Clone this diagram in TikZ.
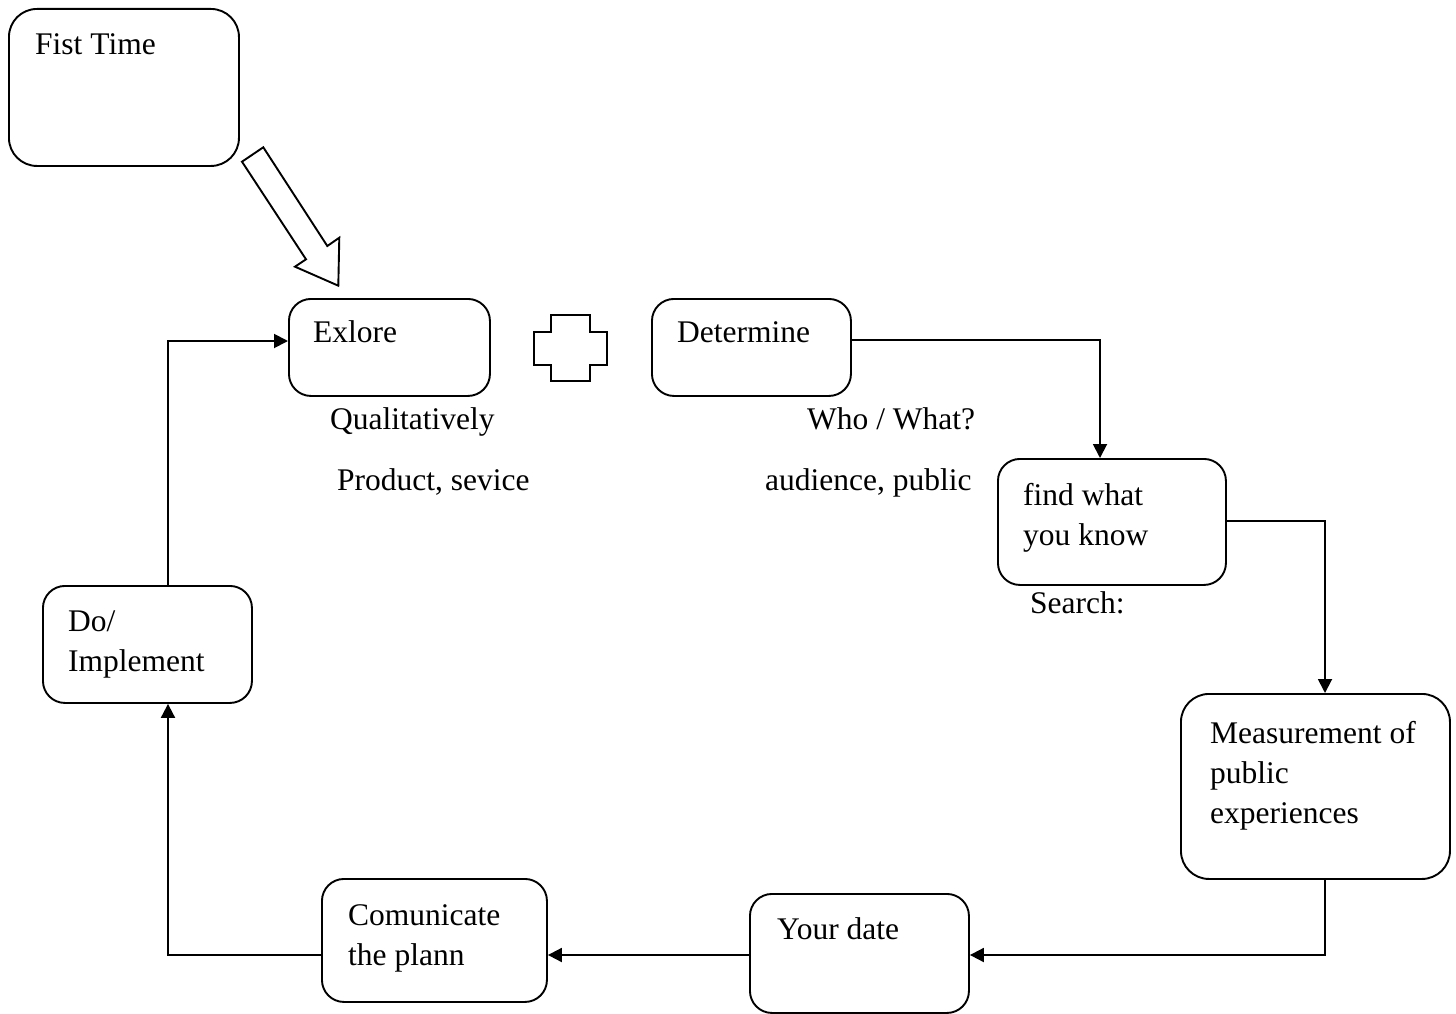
\documentclass[tikz,border=0pt]{standalone}
\usepackage{fontspec}
\setmainfont{Liberation Serif}
\usetikzlibrary{arrows.meta}
\newcommand\mlines[1]{\begin{tabular}[t]{@{}l@{}}#1\end{tabular}}
\tikzset{
  box/.style={draw, line width=1.9pt, rounded corners=22pt, anchor=north west, inner sep=0pt},
  txt/.style={anchor=base west, inner sep=0pt, font=\fontsize{31.5}{40}\selectfont},
  conn/.style={line width=1.9pt, -{Triangle[length=14pt,width=14pt]}},
  outl/.style={draw, line width=1.9pt, fill=white}
}
\begin{document}
\begin{tikzpicture}[x=1pt,y=-1pt]
\useasboundingbox (0,0) rectangle (1456,1014);
% boxes
\node[box, rounded corners=28pt, minimum width=230pt, minimum height=157pt] (fist) at (8,8) {};
\node[box, minimum width=201pt, minimum height=97pt] (exp) at (288,298) {};
\node[box, minimum width=199pt, minimum height=97pt] (det) at (651,298) {};
\node[box, minimum width=228pt, minimum height=126pt] (find) at (997,458) {};
\node[box, rounded corners=28pt, minimum width=269pt, minimum height=185pt] (meas) at (1180,693) {};
\node[box, minimum width=219pt, minimum height=119pt] (date) at (749,893) {};
\node[box, minimum width=225pt, minimum height=123pt] (com) at (321,878) {};
\node[box, minimum width=209pt, minimum height=117pt] (do) at (42,585) {};
% box texts
\node[txt] (fistT) at (35,55) {Fist Time};
\node[txt] (expT) at (313,342) {Exlore};
\node[txt] (detT) at (677,342) {Determine};
\node[txt] (findT) at (1023,505) {\mlines{find what\\you know}};
\node[txt] (measT) at (1210,743) {\mlines{Measurement of\\public\\experiences}};
\node[txt] (dateT) at (777,939) {Your date};
\node[txt] (comT) at (348,925) {\mlines{Comunicate\\the plann}};
\node[txt] (doT) at (68,631) {\mlines{Do/\\Implement}};
% free labels
\node[txt] (qual) at (330,429) {Qualitatively};
\node[txt] (prod) at (337,490) {Product, sevice};
\node[txt] (who) at (807,429) {Who / What?};
\node[txt] (aud) at (765,490) {audience, public};
\node[txt] (search) at (1030,613) {Search:};
% connectors
\draw[conn] (det.east |- 0,340) -| (1100,0 |- find.north);
\draw[conn] (find.east |- 0,521) -| (1325,0 |- meas.north);
\draw[conn] (meas.south -| 1325,0) |- (date.east |- 0,955);
\draw[conn] (date.west |- 0,955) -- (com.east |- 0,955);
\draw[conn] (com.west |- 0,955) -| (168,0 |- do.south);
\draw[conn] (do.north -| 168,0) |- (exp.west |- 0,341);
% block arrow
\draw[outl, line join=miter] (242,161.7) -- (263.3,147.3) -- (327.3,246) -- (339.3,237.7)
  -- (338.3,285.7) -- (295,266.7) -- (306,259.3) -- cycle;
% plus shape
\draw[outl] (534,332.3) -- (550.7,332.3) -- (550.7,315) -- (590,315) -- (590,332.3)
  -- (606.7,332.3) -- (606.7,364.7) -- (590,364.7) -- (590,381) -- (550.7,381)
  -- (550.7,364.7) -- (534,364.7) -- cycle;
\end{tikzpicture}
\end{document}
